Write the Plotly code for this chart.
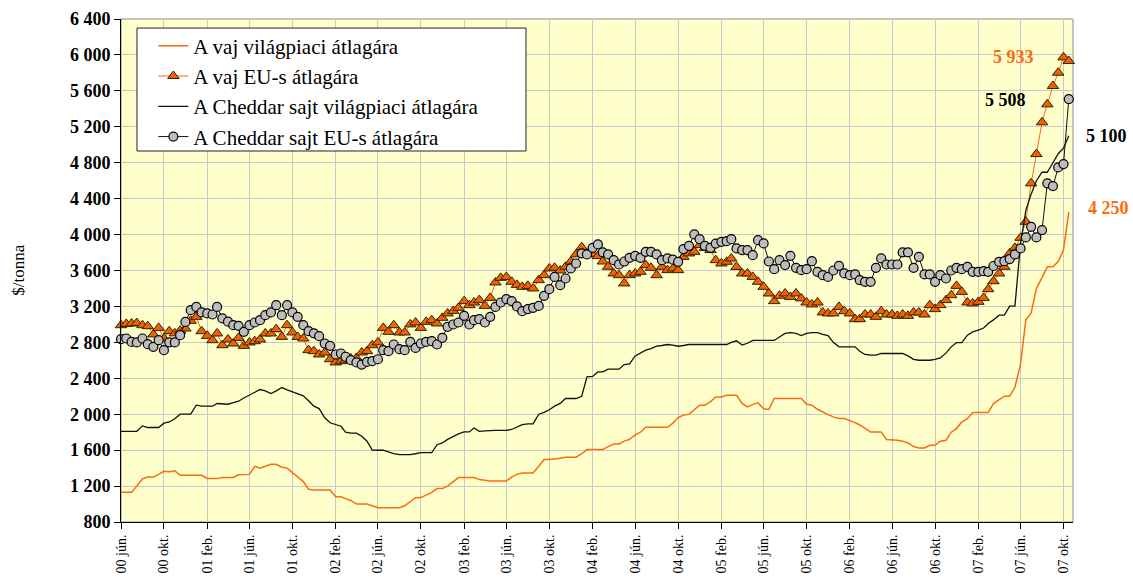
import plotly.graph_objects as go

# ---------------- data (semi-monthly observations, 1st and 16th of each month) ----------------
dates = []
for y in range(2000, 2008):
    for m in range(1, 13):
        if (y == 2000 and m < 6) or (y == 2007 and m > 10):
            continue
        for d in (1, 16):
            dates.append(f"{y}-{m:02d}-{d:02d}")

butter_world = [
    1130, 1130, 1130, 1200, 1280, 1300, 1300, 1330, 1365, 1360,
    1370, 1320, 1320, 1320, 1320, 1320, 1285, 1283, 1283, 1295,
    1295, 1295, 1325, 1328, 1330, 1420, 1400, 1420, 1443, 1443,
    1410, 1400, 1350, 1300, 1250, 1165, 1155, 1155, 1155, 1155,
    1080, 1080, 1060, 1040, 1000, 1000, 1000, 980, 960, 960,
    960, 960, 960, 980, 1023, 1070, 1072, 1100, 1130, 1172,
    1172, 1200, 1250, 1295, 1295, 1295, 1295, 1272, 1260, 1257,
    1257, 1257, 1257, 1300, 1330, 1346, 1346, 1346, 1420, 1495,
    1495, 1500, 1510, 1521, 1521, 1521, 1560, 1606, 1606, 1606,
    1606, 1640, 1669, 1669, 1700, 1720, 1769, 1800, 1855, 1855,
    1855, 1855, 1855, 1900, 1963, 1990, 2000, 2050, 2100, 2100,
    2140, 2193, 2193, 2211, 2211, 2211, 2120, 2081, 2110, 2126,
    2060, 2052, 2175, 2175, 2175, 2175, 2175, 2175, 2111, 2100,
    2055, 2030, 1996, 1970, 1952, 1952, 1930, 1907, 1880, 1840,
    1803, 1803, 1803, 1718, 1718, 1710, 1700, 1680, 1640, 1624,
    1624, 1654, 1654, 1700, 1710, 1800, 1840, 1914, 1950, 2019,
    2019, 2019, 2019, 2119, 2160, 2200, 2200, 2300, 2560, 3050,
    3124, 3400, 3520, 3641, 3641, 3700, 3830, 4250,
]

butter_eu = [
    2991, 3005, 3010, 3015, 2991, 2980, 2888, 2961, 2843, 2924,
    2900, 2930, 2954, 3040, 3084, 2924, 2872, 2824, 2899, 2768,
    2832, 2787, 2850, 2761, 2799, 2813, 2832, 2899, 2899, 2947,
    2861, 2991, 2910, 2861, 2843, 2713, 2702, 2665, 2687, 2612,
    2576, 2590, 2600, 2620, 2627, 2687, 2702, 2768, 2799, 2961,
    2917, 2991, 2910, 2910, 3000, 3021, 2961, 3028, 3047, 3010,
    3073, 3122, 3150, 3184, 3259, 3214, 3244, 3270, 3206, 3295,
    3467, 3518, 3529, 3474, 3440, 3418, 3429, 3400, 3493, 3548,
    3623, 3630, 3600, 3641, 3700, 3780, 3860, 3790, 3780, 3760,
    3700, 3641, 3567, 3548, 3456, 3548, 3567, 3585, 3660, 3630,
    3548, 3641, 3604, 3623, 3604, 3752, 3790, 3808, 3883, 3850,
    3827, 3715, 3678, 3697, 3734, 3640, 3567, 3567, 3529, 3474,
    3418, 3344, 3259, 3318, 3344, 3306, 3344, 3289, 3244, 3222,
    3244, 3133, 3122, 3122, 3195, 3147, 3122, 3058, 3058, 3110,
    3110, 3084, 3147, 3110, 3110, 3095, 3110, 3095, 3133, 3133,
    3110, 3214, 3170, 3214, 3270, 3325, 3429, 3362, 3244, 3233,
    3251, 3295, 3392, 3481, 3567, 3641, 3790, 3852, 3964, 4142,
    4570, 4896, 5250, 5450, 5654, 5802, 5973, 5933,
]

cheddar_world = [
    1810, 1810, 1810, 1810, 1870, 1852, 1852, 1852, 1900, 1914,
    1950, 2000, 2000, 2000, 2100, 2090, 2089, 2089, 2119, 2115,
    2111, 2130, 2145, 2180, 2211, 2245, 2275, 2260, 2230, 2260,
    2297, 2270, 2248, 2225, 2204, 2150, 2090, 2063, 1960, 1905,
    1885, 1866, 1800, 1790, 1790, 1755, 1699, 1600, 1599, 1599,
    1580, 1560, 1551, 1551, 1551, 1560, 1573, 1573, 1573, 1660,
    1680, 1720, 1755, 1780, 1803, 1803, 1847, 1810, 1815, 1821,
    1821, 1821, 1821, 1830, 1860, 1885, 1892, 1892, 2000, 2020,
    2050, 2090, 2120, 2175, 2175, 2175, 2200, 2415, 2420, 2471,
    2471, 2501, 2501, 2501, 2553, 2560, 2649, 2680, 2713, 2730,
    2757, 2765, 2776, 2770, 2757, 2765, 2776, 2776, 2776, 2776,
    2776, 2776, 2776, 2776, 2800, 2817, 2769, 2790, 2821, 2821,
    2821, 2821, 2821, 2860, 2900, 2909, 2900, 2875, 2900, 2909,
    2909, 2890, 2875, 2800, 2750, 2750, 2750, 2750, 2700, 2665,
    2657, 2657, 2676, 2676, 2676, 2676, 2676, 2650, 2610, 2601,
    2601, 2601, 2610, 2627, 2680, 2750, 2798, 2798, 2880, 2917,
    2936, 2960, 3010, 3050, 3103, 3103, 3203, 3203, 3900, 4270,
    4450, 4600, 4694, 4694, 4800, 4900, 4961, 5100,
]

cheddar_eu = [
    2835, 2843, 2805, 2799, 2843, 2780, 2750, 2824, 2713, 2800,
    2799, 2880, 3028, 3158, 3195, 3133, 3122, 3110, 3195, 3066,
    3030, 2991, 2984, 2917, 2991, 3021, 3047, 3103, 3133, 3214,
    3103, 3214, 3133, 3084, 2991, 2924, 2900, 2869, 2787, 2761,
    2665, 2676, 2640, 2601, 2576, 2553, 2582, 2590, 2612, 2713,
    2702, 2776, 2724, 2713, 2805, 2738, 2787, 2805, 2813, 2776,
    2850, 2973, 2999, 3021, 3095, 2999, 3047, 3058, 3021, 3084,
    3195, 3244, 3281, 3259, 3200, 3147, 3170, 3184, 3206, 3318,
    3392, 3529, 3437, 3511, 3623, 3678, 3790, 3779, 3852, 3890,
    3801, 3779, 3715, 3667, 3700, 3741, 3763, 3741, 3808, 3808,
    3779, 3715, 3734, 3720, 3697, 3838, 3875, 4002, 3950, 3875,
    3852, 3900, 3919, 3927, 3949, 3846, 3827, 3827, 3771, 3938,
    3901, 3700, 3615, 3715, 3660, 3763, 3630, 3604, 3615, 3704,
    3585, 3548, 3529, 3600, 3652, 3567, 3548, 3556, 3493, 3474,
    3474, 3630, 3734, 3667, 3667, 3667, 3801, 3801, 3630, 3752,
    3556, 3556, 3474, 3548, 3511, 3600, 3630, 3615, 3641, 3585,
    3585, 3593, 3585, 3650, 3697, 3704, 3727, 3779, 3846, 3968,
    4086, 3968, 4050, 4570, 4540, 4748, 4785, 5508,
]

tick_dates = [
    "2000-06-01", "2000-10-01", "2001-02-01", "2001-06-01", "2001-10-01",
    "2002-02-01", "2002-06-01", "2002-10-01", "2003-02-01", "2003-06-01",
    "2003-10-01", "2004-02-01", "2004-06-01", "2004-10-01", "2005-02-01",
    "2005-06-01", "2005-10-01", "2006-02-01", "2006-06-01", "2006-10-01",
    "2007-02-01", "2007-06-01", "2007-10-01",
]
tick_labels = [
    "00 jún.", "00 okt.", "01 feb.", "01 jún.", "01 okt.",
    "02 feb.", "02 jún.", "02 okt.", "03 feb.", "03 jún.",
    "03 okt.", "04 feb.", "04 jún.", "04 okt.", "05 feb.",
    "05 jún.", "05 okt.", "06 feb.", "06 jún.", "06 okt.",
    "07 feb.", "07 jún.", "07 okt.",
]

series_names = [
    "A vaj világpiaci átlagára",
    "A vaj EU-s átlagára",
    "A Cheddar sajt világpiaci átlagára",
    "A Cheddar sajt EU-s átlagára",
]

end_labels = ["5 933", "5 508", "5 100", "4 250"]
y_title = "$/tonna"

# ---------------- figure ----------------
ORANGE = "#FF6A10"
SERIF = "Liberation Serif"

fig = go.Figure()

fig.add_trace(go.Scatter(
    x=dates, y=butter_world, name=series_names[0], mode="lines",
    line=dict(color=ORANGE, width=1.5), legendgroup="a", cliponaxis=False))
fig.add_trace(go.Scatter(
    x=dates, y=butter_eu, name=series_names[1], mode="lines+markers",
    line=dict(color=ORANGE, width=1),
    marker=dict(symbol="triangle-up", size=10, color="#F26000",
                line=dict(color="#2E2400", width=1)),
    legendgroup="b", cliponaxis=False))
fig.add_trace(go.Scatter(
    x=dates, y=cheddar_world, name=series_names[2], mode="lines",
    line=dict(color="#111111", width=1.3), legendgroup="c", cliponaxis=False))
fig.add_trace(go.Scatter(
    x=dates, y=cheddar_eu, name=series_names[3], mode="lines+markers",
    line=dict(color="#111111", width=1),
    marker=dict(symbol="circle", size=9, color="#BDBDBD",
                line=dict(color="#000000", width=1.2)),
    legendgroup="d", cliponaxis=False))

# plot frame (grey top/right border)
fig.add_shape(type="rect", xref="paper", yref="paper", x0=0, x1=1, y0=0, y1=1,
              line=dict(color="#8C8C8C", width=1), layer="below")
# legend box
fig.add_shape(type="rect", xref="paper", yref="paper",
              x0=0.0168, x1=0.4254, y0=0.7376, y1=0.982,
              line=dict(color="#222222", width=1), fillcolor="white", layer="above")


def label(text, x, y, color):
    fig.add_annotation(text=text, x=x, y=y, xref="paper", yref="y", showarrow=False,
                       xanchor="center", yanchor="middle",
                       font=dict(family=SERIF, size=18, weight="bold", color=color))


label(end_labels[0], 0.937, 5977, ORANGE)
label(end_labels[1], 0.9296, 5498, "#000000")
label(end_labels[2], 1.0347, 5096, "#000000")
label(end_labels[3], 1.0368, 4294, ORANGE)

fig.add_annotation(text=y_title, textangle=-90, xref="paper", yref="paper",
                   x=-0.108, y=0.50, showarrow=False, xanchor="center", yanchor="middle",
                   font=dict(family=SERIF, size=17, color="#000000"))

fig.update_layout(
    width=1133, height=578,
    margin=dict(l=121, r=60, t=19, b=56, autoexpand=False),
    paper_bgcolor="white",
    plot_bgcolor="#FFFFCC",
    separators=", ",
    showlegend=True,
    legend=dict(x=0.034, y=0.987, xanchor="left", yanchor="top",
                bgcolor="rgba(0,0,0,0)", borderwidth=0,
                font=dict(family=SERIF, size=21, color="#000000"),
                traceorder="grouped", tracegroupgap=0, itemwidth=30),
    xaxis=dict(
        type="date", range=["2000-06-01", "2007-10-28"], automargin=False,
        tickmode="array", tickvals=tick_dates, ticktext=tick_labels,
        tickangle=-90, tickfont=dict(family=SERIF, size=14, color="#000000"),
        ticks="outside", ticklen=6, tickcolor="#000000",
        showline=True, linecolor="#000000", linewidth=1,
        showgrid=True, gridcolor="#C8C8C8", gridwidth=1,
        zeroline=False,
    ),
    yaxis=dict(
        range=[800, 6400], tick0=800, dtick=400, tickformat=",d", automargin=False,
        tickfont=dict(family=SERIF, size=18, color="#000000", weight="bold"),
        ticks="outside", ticklen=6, tickcolor="#000000",
        showline=True, linecolor="#000000", linewidth=1,
        showgrid=True, gridcolor="#C8C8C8", gridwidth=1,
        zeroline=False,
    ),
)

# remove the default page margin/scrollbars so the figure fills the window exactly
fig.write_html(
    "out.html",
    config={"displayModeBar": False},
    post_script="document.body.style.margin='0';"
                "document.documentElement.style.overflow='hidden';"
                "document.body.style.overflow='hidden';",
)
